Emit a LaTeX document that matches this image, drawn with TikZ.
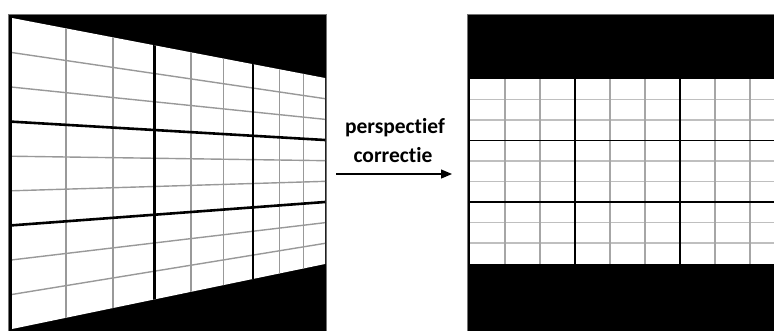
\documentclass[tikz,border=0pt]{standalone}
\usepackage{fontspec}
\newfontfamily\carlito[Ligatures={NoCommon,NoDiscretionary,NoRare}]{Carlito}
\usetikzlibrary{arrows.meta}
\tikzset{
  frame/.style={fill=black, draw=black!55, line width=0.8pt},
  minorL/.style={draw=black!40, line width=1.4pt},
  majorL/.style={draw=black, line width=2.6pt},
  minorR/.style={draw=black!25, line width=1.3pt},
  minorRv/.style={draw=black!35, line width=1.3pt},
  majorR/.style={draw=black, line width=1.9pt},
  lbl/.style={font=\carlito\bfseries\fontsize{21.5}{26}\selectfont, inner sep=0pt},
  conn/.style={-{Triangle[length=11pt,width=9pt]}, line width=1.2pt}
}
\begin{document}
\begin{tikzpicture}[x=1pt,y=-1pt]
\clip (0,0) rectangle (774,330);
\fill[white] (0,0) rectangle (774,330);
% ---------- left panel: perspective view ----------
\draw[frame] (8,14) rectangle (326,340);
\fill[white] (12,18) -- (325,78) -- (325,264) -- (12,329) -- cycle;
\begin{scope}
  \clip (12,18) -- (325,78) -- (325,264) -- (12,329) -- cycle;
  \foreach \i in {1,2,4,5,7,8} {
    \pgfmathsetmacro\u{\i/9}
    \pgfmathsetmacro\xx{12+313*\u*1.672/(1+0.672*\u)}
    \draw[minorL] (\xx,0) -- (\xx,335);
  }
  \foreach \j in {1,2,4,5,7,8} {
    \draw[minorL] (12,{18+311*\j/9}) -- (325,{78+186*\j/9});
  }
  \foreach \i in {3,6} {
    \pgfmathsetmacro\u{\i/9}
    \pgfmathsetmacro\xx{12+313*\u*1.672/(1+0.672*\u)}
    \draw[majorL] (\xx,0) -- (\xx,335);
  }
  \foreach \j in {3,6} {
    \draw[majorL] (12,{18+311*\j/9}) -- (325,{78+186*\j/9});
  }
\end{scope}
% ---------- right panel: corrected view ----------
\draw[frame] (467,14) rectangle (790,340);
\fill[white] (470,79) rectangle (790,263.5);
\begin{scope}
  \clip (470,79) rectangle (790,263.5);
  \foreach \j in {1,2,4,5,7,8} {
    \draw[minorR] (470,{79+20.5*\j}) -- (790,{79+20.5*\j});
  }
  \foreach \k in {1,2,4,5,7,8} {
    \draw[minorRv] ({470+35*\k},79) -- ({470+35*\k},263.5);
  }
  \foreach \j in {3,6} {
    \draw[majorR] (470,{79+20.5*\j}) -- (790,{79+20.5*\j});
  }
  \foreach \k in {3,6} {
    \draw[majorR] ({470+35*\k},79) -- ({470+35*\k},263.5);
  }
\end{scope}
% ---------- label and arrow ----------
\node[lbl, anchor=base] (t1) at (395,133) {perspectief};
\node[lbl, anchor=base] (t2) at (393,162) {correctie};
\coordinate (as) at (336,174);
\coordinate (ae) at (452,174);
\draw[conn] (as) -- (ae);
\end{tikzpicture}
\end{document}
